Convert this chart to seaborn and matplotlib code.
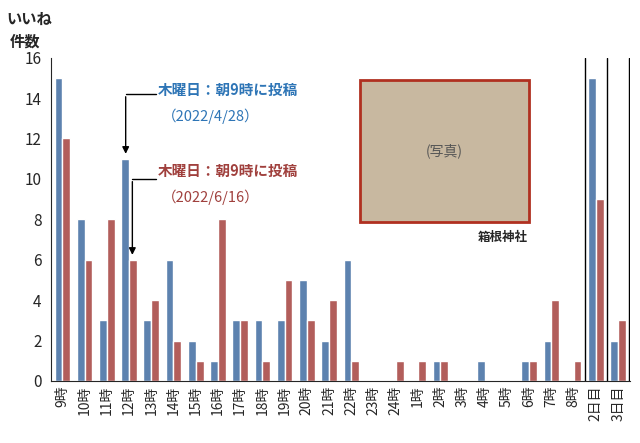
import numpy as np
import pandas as pd
import seaborn as sns
import matplotlib.pyplot as plt
from matplotlib.patches import Rectangle

hours = [f"{h}時" for h in range(9, 25)] + [f"{h}時" for h in range(1, 9)] + ["2日目", "3日目"]
likes_0428 = [15, 8, 3, 11, 3, 6, 2, 1, 3, 3, 3, 5, 2, 6, 0, 0, 0, 1, 0, 1, 0, 1, 2, 0, 15, 2]
likes_0616 = [12, 6, 8, 6, 4, 2, 1, 8, 3, 1, 5, 3, 4, 1, 0, 1, 1, 1, 0, 0, 0, 1, 4, 1, 9, 3]

df = pd.DataFrame({
    "hour": hours * 2,
    "likes": likes_0428 + likes_0616,
    "post": ["2022/4/28"] * len(hours) + ["2022/6/16"] * len(hours),
})

sns.set_style("white")
plt.rcParams['font.family'] = ['Noto Sans CJK JP', 'DejaVu Sans']

fig, ax = plt.subplots(figsize=(6.4, 4.43), dpi=100)
fig.subplots_adjust(left=0.08, right=0.985, top=0.87, bottom=0.14)
sns.barplot(data=df, x="hour", y="likes", hue="post", order=hours,
            palette=["#4F81BD", "#C0504D"], width=0.7, legend=False, ax=ax)

ax.set_ylim(0, 16)
ax.set_yticks(range(0, 17, 2))
ax.set_xlim(-0.5, len(hours) - 0.45)
ax.set_xlabel("")
ax.set_ylabel("")
ax.tick_params(axis="x", rotation=90, labelsize=10, length=0)
ax.tick_params(axis="y", labelsize=11)
for s in ["top", "right"]:
    ax.spines[s].set_visible(False)
for x in [23.5, 24.5, 25.5]:
    ax.axvline(x, color="black", lw=1)

fig.text(0.01, 0.975, "いいね", fontsize=11, weight="bold", va="top")
fig.text(0.015, 0.925, "件数", fontsize=11, weight="bold", va="top")

# annotations
ax.annotate("", xy=(2.85, 11.1), xytext=(2.85, 14.2),
            arrowprops=dict(arrowstyle="-|>", color="black", lw=1))
ax.plot([2.85, 4.2], [14.2, 14.2], color="black", lw=1)
ax.text(4.3, 14.4, "木曜日：朝9時に投稿", color="#2E75B6", fontsize=10.5, weight="bold", va="center")
ax.text(4.5, 13.1, "（2022/4/28）", color="#2E75B6", fontsize=10.5, va="center")
ax.annotate("", xy=(3.15, 6.1), xytext=(3.15, 10.0),
            arrowprops=dict(arrowstyle="-|>", color="black", lw=1))
ax.plot([3.15, 4.2], [10.0, 10.0], color="black", lw=1)
ax.text(4.3, 10.4, "木曜日：朝9時に投稿", color="#A0403D", fontsize=10.5, weight="bold", va="center")
ax.text(4.5, 9.1, "（2022/6/16）", color="#A0403D", fontsize=10.5, va="center")

# photo placeholder
ax.add_patch(Rectangle((13.4, 7.85), 7.6, 7.05, facecolor="#C8B8A0", edgecolor="#B03020", lw=2))
ax.text(17.2, 11.4, "(写真)", ha="center", va="center", fontsize=10, color="#555555")
ax.text(19.8, 7.1, "箱根神社", ha="center", va="center", fontsize=9, weight="bold")

fig.savefig("out.png", dpi=100)
